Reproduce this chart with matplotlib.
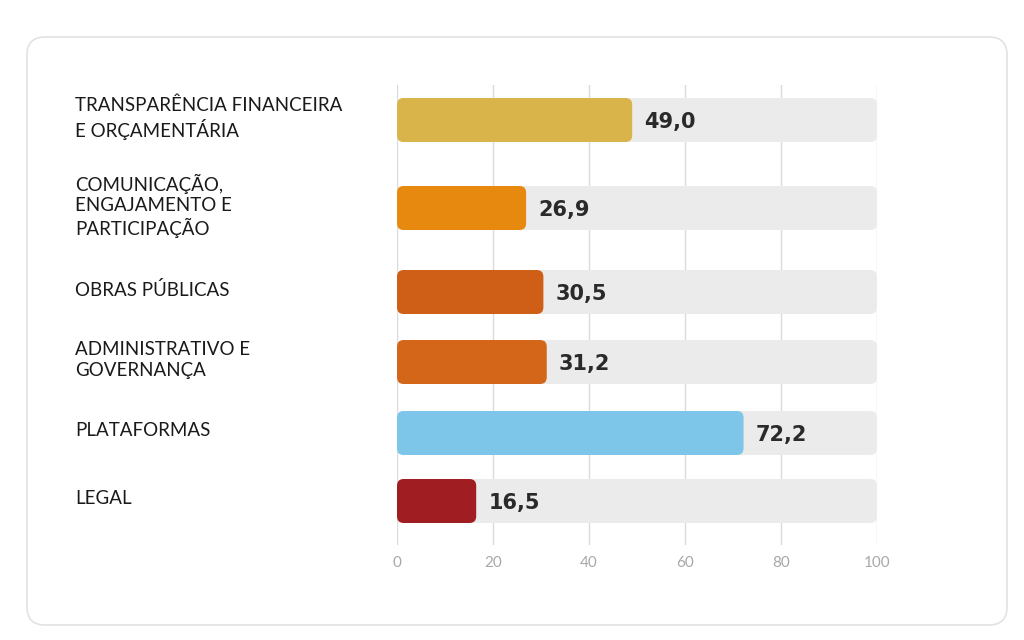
import matplotlib.pyplot as plt
from matplotlib.patches import FancyBboxPatch

categories = [
    "TRANSPARÊNCIA FINANCEIRA\nE ORÇAMENTÁRIA",
    "COMUNICAÇÃO,\nENGAJAMENTO E\nPARTICIPAÇÃO",
    "OBRAS PÚBLICAS",
    "ADMINISTRATIVO E\nGOVERNANÇA",
    "PLATAFORMAS",
    "LEGAL",
]
values = [49.0, 26.9, 30.5, 31.2, 72.2, 16.5]
colors = ["#D9B44A", "#E8890F", "#CF5F17", "#D4661A", "#7DC6EA", "#A01E22"]
ticks = [0, 20, 40, 60, 80, 100]

# row centres in pixel rows of the 640px canvas (uneven in the reference)
row_y = [120, 208, 292, 362, 433, 501]
bar_h = 44
px_per_unit = 4.8

fig = plt.figure(figsize=(10.24, 6.4), dpi=100)
fig.patch.set_facecolor("white")

# card, drawn in a background axes measured in pixels
bg_ax = fig.add_axes([0, 0, 1, 1], zorder=-1)
bg_ax.set_xlim(0, 1024)
bg_ax.set_ylim(640, 0)
bg_ax.axis("off")
bg_ax.add_patch(FancyBboxPatch((27, 37), 980, 588,
                               boxstyle="round,pad=0,rounding_size=18",
                               facecolor="white", edgecolor="#E2E2E2", linewidth=1.2))

top, bot = 85, 545
ax = fig.add_axes([397 / 1024, 1 - bot / 640, 480 / 1024, (bot - top) / 640])
ax.set_xlim(0, 100)
ax.set_ylim(bot, top)
ax.axis("off")

for t in ticks:
    ax.plot([t, t], [top, bot], color="#DADADA", lw=1, zorder=0)
    ax.text(t, 563, str(t), ha="center", va="center", fontsize=11,
            color="#A8A8A8", family="Lato", clip_on=False)

r = 1.4
for y, v, c, name in zip(row_y, values, colors, categories):
    ax.add_patch(FancyBboxPatch((0, y - bar_h / 2), 100, bar_h,
                                boxstyle=f"round,pad=0,rounding_size={r}",
                                mutation_aspect=px_per_unit, facecolor="#EBEBEB",
                                edgecolor="none", zorder=1))
    ax.add_patch(FancyBboxPatch((0, y - bar_h / 2), v, bar_h,
                                boxstyle=f"round,pad=0,rounding_size={r}",
                                mutation_aspect=px_per_unit, facecolor=c,
                                edgecolor="none", zorder=2))
    ax.text(v + 2.5, y + 2, f"{v:.1f}".replace(".", ","), ha="left", va="center",
            fontsize=15, fontweight="bold", color="#2A2A2A",
            family=["Liberation Sans Narrow", "DejaVu Sans"], zorder=3)
    ax.text(-67, y - 2, name, ha="left", va="center", fontsize=13.5,
            color="#1A1A1A", family="Lato", linespacing=1.25, clip_on=False)

fig.savefig("out.png", dpi=100)
